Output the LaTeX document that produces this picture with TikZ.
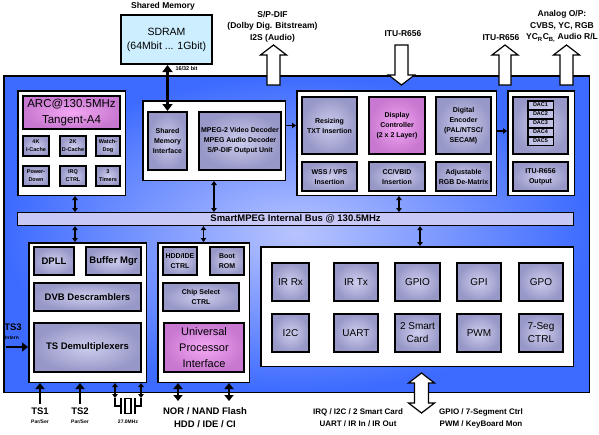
\documentclass[tikz,border=0pt]{standalone}
\usepackage{fontspec}
\setmainfont{Liberation Sans}
\usetikzlibrary{positioning,arrows.meta}

\definecolor{socout}{HTML}{3D6BFF}
\definecolor{socin}{HTML}{B8C4FF}
\definecolor{unitout}{HTML}{9898C8}
\definecolor{unitin}{HTML}{CDCDEE}
\definecolor{pinkout}{HTML}{C878D0}
\definecolor{pinkin}{HTML}{F4A8F4}
\definecolor{busfill}{HTML}{C8C8F6}
\definecolor{sdramfill}{HTML}{CCEEFF}

\tikzset{
  socbg/.style={draw=black, line width=1.5pt, inner color=socin, outer color=socout, anchor=north west, inner sep=0pt},
  blk/.style={draw=black, line width=1.5pt, fill=white, anchor=north west, inner sep=0pt},
  unit/.style={draw=black, line width=2pt, inner color=unitin, outer color=unitout, anchor=north west, inner sep=0pt, align=center},
  pinkunit/.style={unit, inner color=pinkin, outer color=pinkout},
  dacbox/.style={draw=black, line width=1.5pt, fill=unitin!80!unitout, inner sep=0pt, minimum width=25.5pt, minimum height=8.5pt, font=\fontsize{5.5}{6}\selectfont\bfseries},
  lbltxt/.style={font=\fontsize{8.5}{11.5}\selectfont\bfseries, align=center},
  iotxt/.style={font=\fontsize{9.5}{13}\selectfont\bfseries, align=center},
  subtxt/.style={font=\fontsize{5}{6}\selectfont\bfseries, align=center},
  tinytxt/.style={font=\fontsize{5.5}{8}\selectfont\bfseries},
  smalltxt/.style={font=\fontsize{7}{10}\selectfont\bfseries},
  midtxt/.style={font=\fontsize{9.5}{12}\selectfont\bfseries},
  perftxt/.style={font=\fontsize{10}{13}\selectfont},
  bigtxt/.style={font=\fontsize{11.5}{15.5}\selectfont},
  fatarr/.style={draw=black, fill=white, line width=1.2pt, line join=miter},
  busarr/.style={>={Triangle[width=5.5pt,length=4pt]}, <->, line width=1.2pt},
  linkarr/.style={>={Triangle[width=5.5pt,length=4pt]}, ->, line width=1.2pt},
  memarr/.style={>={Triangle[width=10pt,length=7pt]}, <->, line width=3pt},
  ioarr/.style={>={Triangle[width=9pt,length=6pt]}, <->, line width=2.5pt},
  inarr/.style={>={Triangle[width=9pt,length=6pt]}, ->, line width=2.5pt},
  wire/.style={line width=1.2pt}
}

\begin{document}
\begin{tikzpicture}[x=1pt,y=-1pt]
\useasboundingbox (0,0) rectangle (599,434);

% chip area and the wide I/O arrows
\node[socbg, minimum width=585.5pt, minimum height=316.5pt] (soc) at (3,75) {};
\coordinate (spdiftip) at (273.5,45);
\coordinate (ituintip) at (401.5,85);
\coordinate (ituouttip) at (505,45);
\coordinate (analogtip) at (566.5,45);
\coordinate (peritip) at (421.5,373);
\draw[fatarr] (spdiftip) -- ++(13,10) -- ++(-6.5,0) -- ++(0,30) -- ++(-13,0) -- ++(0,-30) -- ++(-6.5,0) -- cycle;
\draw[fatarr] (ituintip) -- ++(13,-10) -- ++(-6.5,0) -- ++(0,-30) -- ++(-13,0) -- ++(0,30) -- ++(-6.5,0) -- cycle;
\draw[fatarr] (ituouttip) -- ++(13,10) -- ++(-7,0) -- ++(0,30) -- ++(-12,0) -- ++(0,-30) -- ++(-7,0) -- cycle;
\draw[fatarr] (analogtip) -- ++(13,10) -- ++(-6.5,0) -- ++(0,30) -- ++(-13,0) -- ++(0,-30) -- ++(-6.5,0) -- cycle;
\draw[fatarr] (peritip) -- ++(13,10) -- ++(-6,0) -- ++(0,20) -- ++(6,0) -- ++(-13,10) -- ++(-13,-10) -- ++(6,0) -- ++(0,-20) -- ++(-6,0) -- cycle;

% shared memory
\node[lbltxt] (shmemlbl) at (163,6) {Shared Memory};
\node[draw=black, line width=2pt, fill=sdramfill, anchor=north west, minimum width=91pt, minimum height=49pt,
      align=center, font=\fontsize{10.5}{14}\selectfont] (sdram) at (120,14) {SDRAM\\(64Mbit ... 1Gbit)};
\node[tinytxt, anchor=west] (buswidth) at (172,69) {16/32 bit};

% top labels
\node[lbltxt] (spdiflbl) at (272.5,26.5) {S/P-DIF\\(Dolby Dig. Bitstream)\\I2S (Audio)};
\node[lbltxt] (ituinlbl) at (403,34) {ITU-R656};
\node[lbltxt] (ituoutlbl) at (501,38) {ITU-R656};
\node[lbltxt] (analoglbl) at (562,26.5) {Analog O/P:\\CVBS, YC, RGB\\YC\textsubscript{R}C\textsubscript{B,} Audio R/L};

% CPU
\node[blk, minimum width=107.5pt, minimum height=104.5pt] (arcblk) at (17,90) {};
\node[pinkunit, bigtxt, minimum width=97pt, minimum height=33pt] (arc) at (22,95) {ARC@130.5MHz\\Tangent-A4};
\node[unit, tinytxt, minimum width=26pt, minimum height=20pt] (icache) at (22,135) {4K\\I-Cache};
\node[unit, tinytxt, minimum width=26pt, minimum height=20pt, right=9pt of icache] (dcache) {2K\\D-Cache};
\node[unit, tinytxt, minimum width=24pt, minimum height=20pt, right=8pt of dcache] (watchdog) {Watch-\\Dog};
\node[unit, tinytxt, minimum width=26pt, minimum height=20pt, below=8pt of icache] (powerdown) {Power-\\Down};
\node[unit, tinytxt, minimum width=26pt, minimum height=20pt, below=8pt of dcache] (irqctrl) {IRQ\\CTRL};
\node[unit, tinytxt, minimum width=24pt, minimum height=20pt, below=8pt of watchdog] (timers) {3\\Timers};

% memory interface and decoders
\node[blk, minimum width=142.5pt, minimum height=79.5pt] (memblk) at (142,100) {};
\node[unit, smalltxt, minimum width=39pt, minimum height=58pt] (smi) at (147,111) {Shared\\Memory\\Interface};
\node[unit, smalltxt, minimum width=82pt, minimum height=58pt, right=10pt of smi] (mpeg) {MPEG-2 Video Decoder\\MPEG Audio Decoder\\S/P-DIF Output Unit};

% display path
\node[blk, minimum width=199.5pt, minimum height=104.5pt] (dispblk) at (296,90) {};
\node[unit, smalltxt, minimum width=55pt, minimum height=57pt] (resize) at (301,96) {Resizing\\TXT Insertion};
\node[pinkunit, smalltxt, minimum width=56pt, minimum height=57pt, right=10pt of resize] (dispctl) {Display\\Controller\\(2 x 2 Layer)};
\node[unit, smalltxt, minimum width=55pt, minimum height=57pt, right=9pt of dispctl] (encoder) {Digital\\Encoder\\(PAL/NTSC/\\SECAM)};
\node[unit, smalltxt, minimum width=55pt, minimum height=29pt, below=6pt of resize] (wss) {WSS / VPS\\Insertion};
\node[unit, smalltxt, minimum width=56pt, minimum height=29pt, below=6pt of dispctl] (ccvbid) {CC/VBID\\Insertion};
\node[unit, smalltxt, minimum width=55pt, minimum height=29pt, below=6pt of encoder] (dematrix) {Adjustable\\RGB De-Matrix};

% DACs
\node[blk, minimum width=66.5pt, minimum height=104.5pt] (dacblk) at (507,90) {};
\node[unit, minimum width=55pt, minimum height=57pt] (dacpanel) at (512,96) {};
\node[unit, smalltxt, minimum width=55pt, minimum height=29pt, below=6pt of dacpanel] (ituout) {ITU-R656\\Output};
\node[dacbox] (dac1) at (540.5,105) {DAC1};
\node[dacbox, below=-1pt of dac1] (dac2) {DAC2};
\node[dacbox, below=-1pt of dac2] (dac3) {DAC3};
\node[dacbox, below=-1pt of dac3] (dac4) {DAC4};
\node[dacbox, below=-1pt of dac4] (dac5) {DAC5};

% internal bus
\node[draw=black, line width=1.2pt, fill=busfill, anchor=north west, inner sep=0pt, minimum width=556pt, minimum height=13pt,
      font=\fontsize{9.5}{11}\selectfont\bfseries] (bus) at (17,212) {SmartMPEG Internal Bus @ 130.5MHz};

% transport stream
\node[blk, minimum width=117.5pt, minimum height=139.5pt] (tsblk) at (28,242) {};
\node[unit, midtxt, minimum width=40pt, minimum height=28pt] (dpll) at (33,246) {DPLL};
\node[unit, midtxt, minimum width=55pt, minimum height=28pt, right=10pt of dpll] (bufmgr) {Buffer Mgr};
\node[unit, midtxt, minimum width=107pt, minimum height=28pt] (dvb) at (33,282) {DVB Descramblers};
\node[unit, midtxt, minimum width=107pt, minimum height=49pt] (tsdemux) at (33,322) {TS Demultiplexers};

% processor interface
\node[blk, minimum width=91.5pt, minimum height=139.5pt] (upiblk) at (157,242) {};
\node[unit, smalltxt, minimum width=34pt, minimum height=28pt] (hddctl) at (162,246) {HDD/IDE\\CTRL};
\node[unit, smalltxt, minimum width=34pt, minimum height=28pt, right=11pt of hddctl] (bootrom) {Boot\\ROM};
\node[unit, smalltxt, minimum width=76pt, minimum height=28pt] (chipsel) at (162,282) {Chip Select\\CTRL};
\node[pinkunit, font=\fontsize{11}{16}\selectfont, minimum width=80pt, minimum height=49pt] (upi) at (163,322) {Universal\\Processor\\Interface};

% peripherals
\node[blk, minimum width=312.5pt, minimum height=119.5pt] (periblk) at (260,246) {};
\node[unit, perftxt, minimum width=37pt, minimum height=38pt] (irrx) at (271,262) {IR Rx};
\node[unit, perftxt, minimum width=44pt, minimum height=38pt, right=23pt of irrx] (irtx) {IR Tx};
\node[unit, perftxt, minimum width=45pt, minimum height=38pt, right=15pt of irtx] (gpio) {GPIO};
\node[unit, perftxt, minimum width=44pt, minimum height=38pt, right=15pt of gpio] (gpi) {GPI};
\node[unit, perftxt, minimum width=44pt, minimum height=38pt, right=16pt of gpi] (gpo) {GPO};
\node[unit, perftxt, minimum width=37pt, minimum height=38pt, below=11pt of irrx] (i2c) {I2C};
\node[unit, perftxt, minimum width=44pt, minimum height=38pt, below=11pt of irtx] (uart) {UART};
\node[unit, perftxt, minimum width=45pt, minimum height=38pt, below=11pt of gpio] (smartcard) {2 Smart\\Card};
\node[unit, perftxt, minimum width=44pt, minimum height=38pt, below=11pt of gpi] (pwm) {PWM};
\node[unit, perftxt, minimum width=44pt, minimum height=38pt, below=11pt of gpo] (sevenseg) {7-Seg\\CTRL};

% connections to the bus
\coordinate (arcbus) at ([xshift=3.5pt]arcblk.south);
\coordinate (tsbus) at ([xshift=-12.5pt]tsblk.north);
\coordinate (peribus) at ([xshift=3pt]periblk.north);
\draw[busarr] (arcbus) -- (arcbus |- bus.north);
\draw[busarr] (memblk.south) -- (memblk.south |- bus.north);
\draw[busarr] ([xshift=2.5pt]dispblk.south) -- ([xshift=2.5pt]dispblk.south |- bus.north);
\draw[busarr] (tsbus |- bus.south) -- (tsbus);
\draw[busarr] (upiblk.north |- bus.south) -- (upiblk.north);
\draw[busarr] (peribus |- bus.south) -- (peribus);

% data flow
\draw[memarr] (sdram.south -| smi.north) -- (smi.north);
\coordinate (mpegout) at ([yshift=15pt]memblk.east);
\draw[linkarr] (mpegout) -- (mpegout -| dispblk.west);
\coordinate (encout) at ([yshift=12pt]dispblk.east);
\draw[linkarr] (encout) -- (encout -| dacblk.west);

% transport stream inputs
\node[iotxt] (ts3) at (13,327) {TS3};
\node[subtxt] (ts3mode) at (12,338) {Intern};
\coordinate (ts3in) at (6,347);
\draw[inarr] (ts3in) -- (ts3in -| tsblk.west);
\node[iotxt] (ts1) at (40,411) {TS1};
\node[subtxt] (ts1mode) at (40,422) {Par/Ser};
\node[iotxt] (ts2) at (80,411) {TS2};
\node[subtxt] (ts2mode) at (80,422) {Par/Ser};
\draw[inarr] (ts1.north) -- (ts1.north |- tsblk.south);
\draw[inarr] (ts2.north) -- (ts2.north |- tsblk.south);

% crystal
\node[draw=black, line width=1.2pt, fill=white, minimum width=6pt, minimum height=15pt, inner sep=0pt] (xtal) at (128,406) {};
\draw[line width=1.5pt] ([xshift=-3.5pt]xtal.north west) -- ([xshift=-3.5pt]xtal.south west);
\draw[line width=1.5pt] ([xshift=3.5pt]xtal.north east) -- ([xshift=3.5pt]xtal.south east);
\coordinate (xa) at (115,398);
\coordinate (xb) at (141,398);
\draw[busarr] (xa |- tsblk.south) -- (xa);
\draw[busarr] (xb |- tsblk.south) -- (xb);
\draw[wire] (xa) |- ([xshift=-3.5pt]xtal.west);
\draw[wire] (xb) |- ([xshift=3.5pt]xtal.east);
\node[subtxt] (xtallbl) at (128,422) {27.0MHz};

% memory bus pins
\coordinate (nora) at (178,401);
\coordinate (norb) at (229,401);
\draw[ioarr] (nora |- upiblk.south) -- (nora);
\draw[ioarr] (norb |- upiblk.south) -- (norb);
\node[iotxt] (norlbl) at (205,417.5) {NOR / NAND Flash\\HDD / IDE / CI};

% peripheral pins
\node[lbltxt, font=\fontsize{8}{12}\selectfont\bfseries] (irqlbl) at (358,418) {IRQ / I2C / 2 Smart Card\\UART / IR In / IR Out};
\node[lbltxt, font=\fontsize{8}{12}\selectfont\bfseries] (gpiolbl) at (481,418) {GPIO / 7-Segment Ctrl\\PWM / KeyBoard Mon};
\end{tikzpicture}
\end{document}
